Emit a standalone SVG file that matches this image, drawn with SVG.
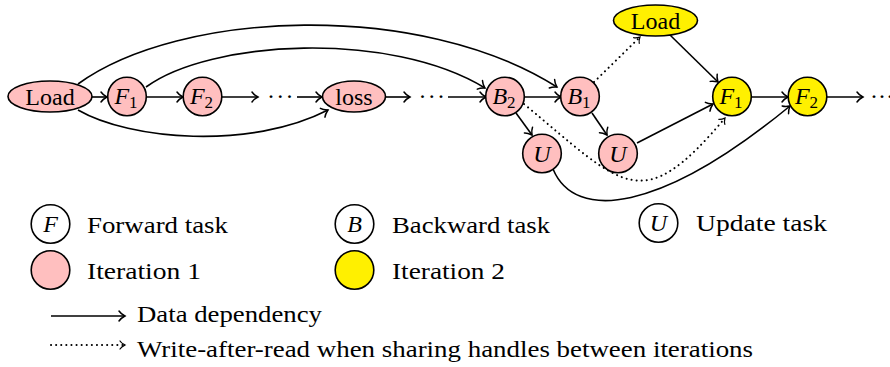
<svg xmlns="http://www.w3.org/2000/svg" width="890" height="367" viewBox="0 0 890 367">
<defs>
<marker id="ar" markerUnits="userSpaceOnUse" markerWidth="12" markerHeight="14" viewBox="-8 -7 10 14" refX="0" refY="0" orient="auto" overflow="visible">
<path d="M-6,-5 C-4,-2 -1,-0.6 0,0 C-1,0.6 -4,2 -6,5" fill="none" stroke="#000" stroke-width="1.5" stroke-linecap="round" stroke-dasharray="none"/>
</marker>
<marker id="ard" markerUnits="userSpaceOnUse" markerWidth="12" markerHeight="14" viewBox="-8 -7 10 14" refX="0" refY="0" orient="auto" overflow="visible">
<path d="M-5,-4 C-3.5,-1.6 -1,-0.5 0,0 C-1,0.5 -3.5,1.6 -5,4" fill="none" stroke="#000" stroke-width="1.2" stroke-linecap="round" stroke-dasharray="none"/>
</marker>
</defs>

<g id="connectors">
<g fill="none" stroke="#000" stroke-width="1.6" marker-end="url(#ar)">
<path d="M92,97 L107,97"/>
<path d="M146,97 L183,97"/>
<path d="M222,97 L258,97"/>
<path d="M297,97 L322,97"/>
<path d="M385,97 L410,97"/>
<path d="M448,97 L486,97"/>
<path d="M524,97 L561,97"/>
<path d="M751,97 L788,97"/>
<path d="M827,97 L863,97"/>
<path d="M78,84 C180,10 420,0 557,87"/>
<path d="M146,87 C210,40 390,30 485,88"/>
<path d="M78,110 C130,140 250,150 328,110"/>
<path d="M516,113 L532,135"/>
<path d="M592,113 L607,135"/>
<path d="M637,143 L713,104"/>
<path d="M670,35 L718,82"/>
<path d="M553,169 C575,222 660,213 790,106"/>
<path d="M51,316 L125,316"/>
</g>
<g fill="none" stroke="#000" stroke-width="2" stroke-dasharray="0.1 5" stroke-linecap="round" marker-end="url(#ard)">
<path d="M594,82 L640,37"/>
<path d="M524,104 C624,187 641,218 725,118"/>
<path d="M51,345 L125,345"/>
</g>
</g>

<g id="dots">
<text font-family="Liberation Serif" font-size="24" x="267" y="104" letter-spacing="1.3">···</text>
<text font-family="Liberation Serif" font-size="24" x="418.5" y="104" letter-spacing="1.3">···</text>
<text font-family="Liberation Serif" font-size="24" x="870" y="104">···</text>
</g>

<g id="load1"><ellipse fill="#ffbfbf" stroke="#000" stroke-width="1.6" cx="50" cy="96.5" rx="42" ry="15.5"/><text font-family="Liberation Serif" font-size="24" x="50" y="105" text-anchor="middle">Load</text></g>
<g id="f1"><circle fill="#ffbfbf" stroke="#000" stroke-width="1.6" cx="127" cy="96.5" r="19.3"/><text font-family="Liberation Serif" font-size="24" x="126" y="104" text-anchor="middle"><tspan font-style="italic">F</tspan><tspan font-size="17" dy="3.5">1</tspan></text></g>
<g id="f2"><circle fill="#ffbfbf" stroke="#000" stroke-width="1.6" cx="202.5" cy="96.5" r="19.3"/><text font-family="Liberation Serif" font-size="24" x="201.5" y="104" text-anchor="middle"><tspan font-style="italic">F</tspan><tspan font-size="17" dy="3.5">2</tspan></text></g>
<g id="loss"><ellipse fill="#ffbfbf" stroke="#000" stroke-width="1.6" cx="354" cy="96.5" rx="31.5" ry="15.5"/><text font-family="Liberation Serif" font-size="24" x="354" y="105" text-anchor="middle">loss</text></g>
<g id="b2"><circle fill="#ffbfbf" stroke="#000" stroke-width="1.6" cx="505" cy="96.5" r="19.3"/><text font-family="Liberation Serif" font-size="24" x="504" y="104" text-anchor="middle"><tspan font-style="italic">B</tspan><tspan font-size="17" dy="3.5">2</tspan></text></g>
<g id="b1"><circle fill="#ffbfbf" stroke="#000" stroke-width="1.6" cx="580" cy="96.5" r="19.3"/><text font-family="Liberation Serif" font-size="24" x="579" y="104" text-anchor="middle"><tspan font-style="italic">B</tspan><tspan font-size="17" dy="3.5">1</tspan></text></g>
<g id="u1"><circle fill="#ffbfbf" stroke="#000" stroke-width="1.6" cx="542" cy="153.5" r="19.3"/><text font-family="Liberation Serif" font-size="24" font-style="italic" x="542" y="162" text-anchor="middle">U</text></g>
<g id="u2"><circle fill="#ffbfbf" stroke="#000" stroke-width="1.6" cx="618" cy="153.5" r="19.3"/><text font-family="Liberation Serif" font-size="24" font-style="italic" x="618" y="162" text-anchor="middle">U</text></g>
<g id="load2"><ellipse fill="#fff000" stroke="#000" stroke-width="1.6" cx="655.5" cy="20.5" rx="42" ry="15.5"/><text font-family="Liberation Serif" font-size="24" x="655.5" y="29" text-anchor="middle">Load</text></g>
<g id="f1b"><circle fill="#fff000" stroke="#000" stroke-width="1.6" cx="732" cy="96.5" r="19.3"/><text font-family="Liberation Serif" font-size="24" x="731" y="104" text-anchor="middle"><tspan font-style="italic">F</tspan><tspan font-size="17" dy="3.5">1</tspan></text></g>
<g id="f2b"><circle fill="#fff000" stroke="#000" stroke-width="1.6" cx="807.5" cy="96.5" r="19.3"/><text font-family="Liberation Serif" font-size="24" x="806.5" y="104" text-anchor="middle"><tspan font-style="italic">F</tspan><tspan font-size="17" dy="3.5">2</tspan></text></g>

<g id="legend">
<circle fill="#fff" stroke="#000" stroke-width="1.6" cx="50.5" cy="224" r="19.3"/><text font-family="Liberation Serif" font-size="24" font-style="italic" x="50.5" y="232" text-anchor="middle">F</text>
<text font-family="Liberation Serif" font-size="23" x="87" y="232.5" textLength="141" lengthAdjust="spacingAndGlyphs">Forward task</text>
<circle fill="#fff" stroke="#000" stroke-width="1.6" cx="354.5" cy="224" r="19.3"/><text font-family="Liberation Serif" font-size="24" font-style="italic" x="354.5" y="232" text-anchor="middle">B</text>
<text font-family="Liberation Serif" font-size="23" x="392" y="232.5" textLength="158" lengthAdjust="spacingAndGlyphs">Backward task</text>
<circle fill="#fff" stroke="#000" stroke-width="1.6" cx="658.5" cy="223" r="19.3"/><text font-family="Liberation Serif" font-size="24" font-style="italic" x="658.5" y="231" text-anchor="middle">U</text>
<text font-family="Liberation Serif" font-size="23" x="696" y="231" textLength="131" lengthAdjust="spacingAndGlyphs">Update task</text>
<circle fill="#ffbfbf" stroke="#000" stroke-width="1.6" cx="50.5" cy="270" r="19.3"/>
<text font-family="Liberation Serif" font-size="23" x="87" y="278.5" textLength="114" lengthAdjust="spacingAndGlyphs">Iteration 1</text>
<circle fill="#fff000" stroke="#000" stroke-width="1.6" cx="354.5" cy="270" r="19.3"/>
<text font-family="Liberation Serif" font-size="23" x="392" y="278.5" textLength="113" lengthAdjust="spacingAndGlyphs">Iteration 2</text>
<text font-family="Liberation Serif" font-size="23" x="137" y="322" textLength="185" lengthAdjust="spacingAndGlyphs">Data dependency</text>
<text font-family="Liberation Serif" font-size="23" x="137" y="357" textLength="616" lengthAdjust="spacingAndGlyphs">Write-after-read when sharing handles between iterations</text>
</g>
</svg>
